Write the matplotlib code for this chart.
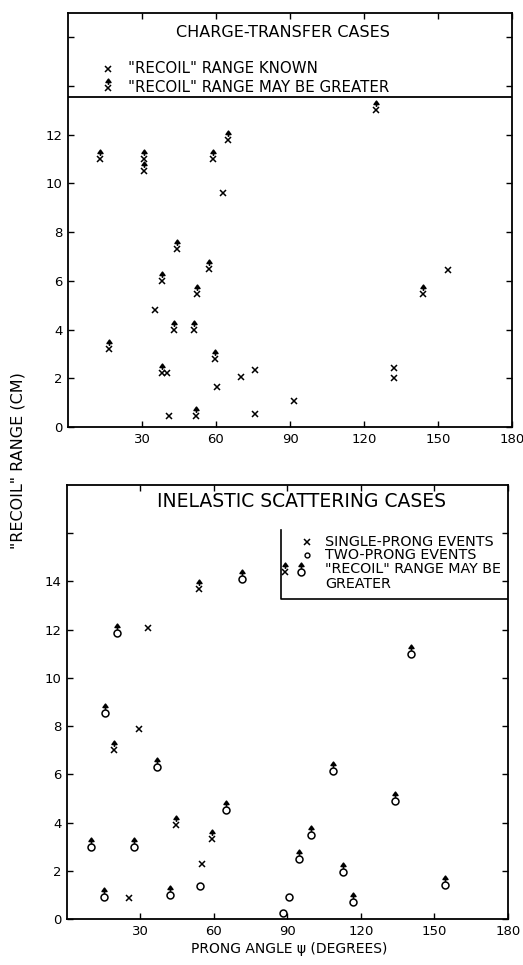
import numpy as np
import matplotlib.pyplot as plt
from matplotlib.path import Path

# charge-transfer cases (top panel)
ct_known_x = [35.3, 40.0, 41.0, 60.6, 63.0, 70.3, 75.8, 76.0, 91.6, 132.0, 132.0, 154.0]
ct_known_y = [4.8, 2.2, 0.45, 1.65, 9.6, 2.05, 2.35, 0.55, 1.07, 2.42, 2.02, 6.45]
ct_greater_x = [13.0, 16.6, 30.8, 30.8, 38.2, 38.2, 42.8, 44.1, 51.2, 52.0, 52.2,
                57.2, 58.7, 59.6, 65.0, 125.0, 144.0]
ct_greater_y = [11.0, 3.2, 11.0, 10.5, 6.0, 2.2, 4.0, 7.3, 4.0, 0.45, 5.45,
                6.5, 11.0, 2.8, 11.8, 13.0, 5.45]

# inelastic scattering cases (bottom panel)
single_x = [33.2, 29.3, 55.0, 25.3]
single_y = [12.05, 7.9, 2.28, 0.88]
single_greater_x = [54.0, 19.3, 44.5, 59.3]
single_greater_y = [13.7, 7.0, 3.9, 3.3]
two_x = [54.3, 88.3, 90.6]
two_y = [1.37, 0.25, 0.92]
two_greater_x = [71.5, 20.5, 140.6, 15.5, 36.6, 9.8, 27.4, 64.8, 15.1, 42.0,
                 94.7, 99.6, 108.6, 112.7, 116.9, 133.9, 154.3]
two_greater_y = [14.1, 11.85, 11.0, 8.55, 6.3, 3.0, 3.0, 4.5, 0.93, 1.0,
                 2.48, 3.48, 6.13, 1.95, 0.7, 4.88, 1.41]

xticks = [30, 60, 90, 120, 150, 180]

# up arrow marker sitting above the point
arrow = Path([(0, 0.38), (0, 0.75), (-0.26, 0.64), (0, 1.0), (0.26, 0.64), (-0.26, 0.64)],
             [Path.MOVETO, Path.LINETO, Path.MOVETO, Path.LINETO, Path.LINETO, Path.CLOSEPOLY])

plt.rcParams['font.family'] = 'DejaVu Sans'

fig = plt.figure(figsize=(5.23, 9.65), dpi=100)
ax1 = fig.add_axes([0.130, 0.5575, 0.849, 0.429])
ax2 = fig.add_axes([0.128, 0.0477, 0.843, 0.4497])

xk = dict(marker='x', ms=4, mew=1.1, color='black', ls='none')
ok = dict(marker='o', ms=5, mew=1.1, mfc='none', mec='black', ls='none')
ak = dict(marker=arrow, ms=13.5, mew=1.1, color='black', ls='none')

def style(ax, ymax, ylabels):
    ax.set_xlim(0, 180)
    ax.set_ylim(0, ymax)
    ax.set_xticks(xticks)
    ax.set_xticklabels([str(t) for t in xticks], fontsize=9.5)
    ax.set_yticks(range(0, ymax, 2))
    ax.set_yticklabels([str(t) if t <= ylabels else '' for t in range(0, ymax, 2)], fontsize=9.5)
    ax.tick_params(direction='in', top=True, right=True, length=4, width=1, pad=4)
    for s in ax.spines.values():
        s.set_linewidth(1.3)

# top panel
ax1.plot(ct_known_x, ct_known_y, **xk)
ax1.plot(ct_greater_x, ct_greater_y, **xk)
ax1.plot(ct_greater_x, ct_greater_y, **ak)
ax1.axhline(13.55, color='black', lw=1.3)
style(ax1, 17, 12)
ax1.text(0.484, 0.952, 'CHARGE-TRANSFER CASES', transform=ax1.transAxes,
         ha='center', va='center', fontsize=11.5)
ax1.plot([0.09], [0.865], transform=ax1.transAxes, **xk)
ax1.plot([0.09], [0.818], transform=ax1.transAxes, **xk)
ax1.plot([0.09], [0.818], transform=ax1.transAxes, **ak)
ax1.text(0.135, 0.865, '"RECOIL" RANGE KNOWN', transform=ax1.transAxes,
         ha='left', va='center', fontsize=10.8)
ax1.text(0.135, 0.821, '"RECOIL" RANGE MAY BE GREATER', transform=ax1.transAxes,
         ha='left', va='center', fontsize=10.8)

# bottom panel
ax2.plot(single_x, single_y, **xk)
ax2.plot(single_greater_x, single_greater_y, **xk)
ax2.plot(single_greater_x, single_greater_y, **ak)
ax2.plot(two_x, two_y, **ok)
ax2.plot(two_greater_x, two_greater_y, **ok)
ax2.plot(two_greater_x, two_greater_y, **ak)
style(ax2, 18, 14)
ax2.text(0.533, 0.961, 'INELASTIC SCATTERING CASES', transform=ax2.transAxes,
         ha='center', va='center', fontsize=13.5)
ax2.plot([0.485, 0.485, 1.0], [0.896, 0.737, 0.737], transform=ax2.transAxes,
         color='black', lw=1.2)
ax2.plot([0.544], [0.869], transform=ax2.transAxes, **xk)
ax2.plot([0.544], [0.839], transform=ax2.transAxes, marker='o', ms=3.5, mew=1.0,
         mfc='none', mec='black', ls='none')
ax2.plot([0.494], [0.800], transform=ax2.transAxes, **xk)
ax2.plot([0.494], [0.800], transform=ax2.transAxes, **ak)
ax2.plot([0.531], [0.800], transform=ax2.transAxes, **ok)
ax2.plot([0.531], [0.800], transform=ax2.transAxes, **ak)
for yy, s in zip([0.869, 0.839, 0.806, 0.772],
                 ['SINGLE-PRONG EVENTS', 'TWO-PRONG EVENTS',
                  '"RECOIL" RANGE MAY BE', 'GREATER']):
    ax2.text(0.585, yy, s, transform=ax2.transAxes, ha='left', va='center', fontsize=10.3)

fig.text(0.034, 0.523, '"RECOIL" RANGE (CM)', rotation=90, ha='center', va='center', fontsize=11.5)
fig.text(0.553, 0.009, 'PRONG ANGLE \u03c8 (DEGREES)', ha='center', va='bottom', fontsize=10)

fig.savefig('out.png', dpi=100)
